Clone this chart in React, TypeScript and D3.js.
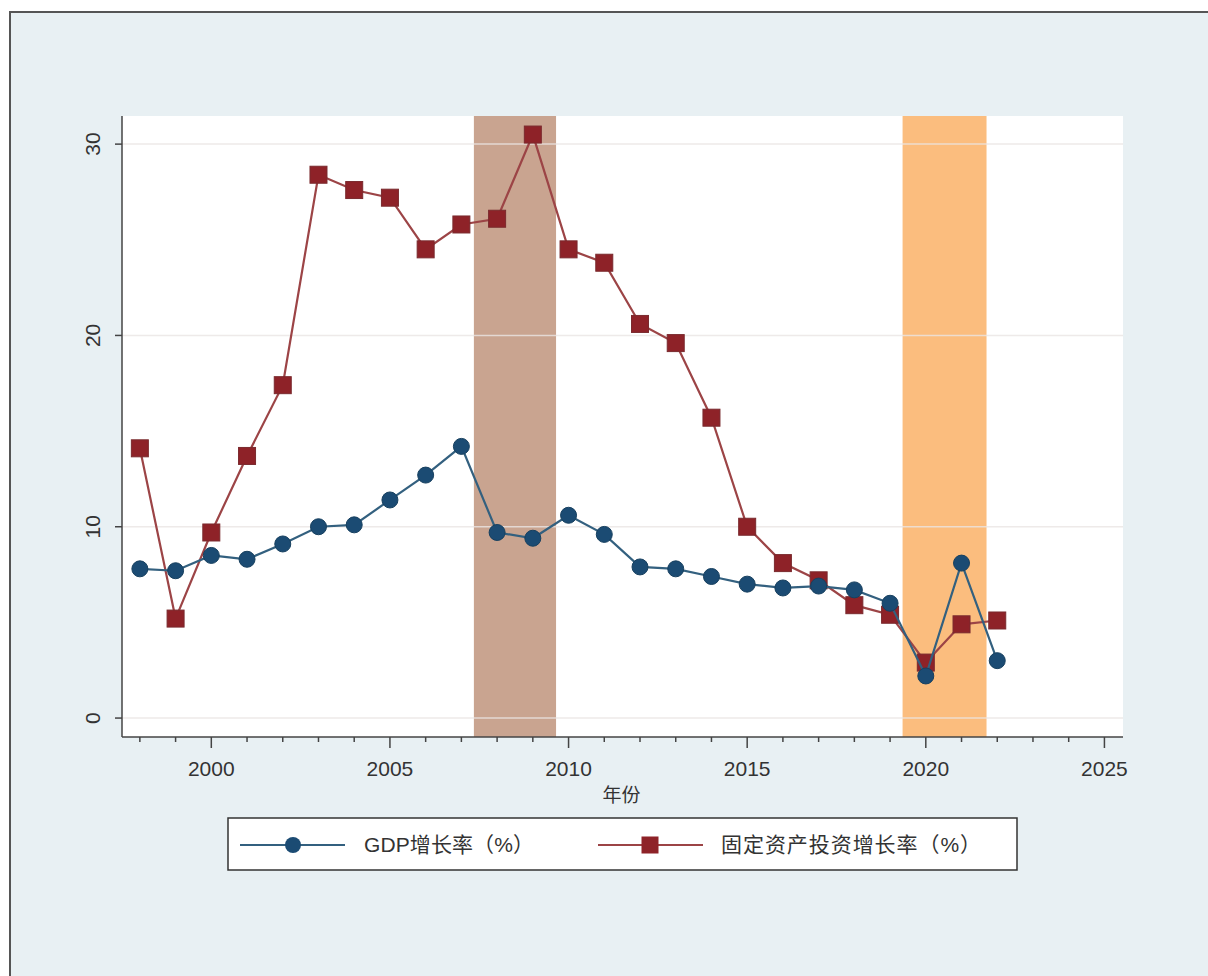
import React from "react";
import * as d3 from "d3";

const years = [1998,1999,2000,2001,2002,2003,2004,2005,2006,2007,2008,2009,2010,2011,2012,2013,2014,2015,2016,2017,2018,2019,2020,2021,2022];
const gdpGrowth = [7.8,7.7,8.5,8.3,9.1,10.0,10.1,11.4,12.7,14.2,9.7,9.4,10.6,9.6,7.9,7.8,7.4,7.0,6.8,6.9,6.7,6.0,2.2,8.1,3.0];
const fixedAssetGrowth = [14.1,5.2,9.7,13.7,17.4,28.4,27.6,27.2,24.5,25.8,26.1,30.5,24.5,23.8,20.6,19.6,15.7,10.0,8.1,7.2,5.9,5.4,2.9,4.9,5.1];
const majorXTicks = [2000,2005,2010,2015,2020,2025];
const minorXTicks = d3.range(1998, 2026);
const yTicks = [0,10,20,30];
const bands = [
  { start: 2007.35, end: 2009.65, color: "#c9a490" },
  { start: 2019.35, end: 2021.7, color: "#fbbd7e" },
];
const seriesNames = ["GDP增长率（%）", "固定资产投资增长率（%）"];

const FONT = "'Liberation Sans', Arial, 'Noto Sans CJK SC', sans-serif";

export default function App() {
  const left = 122, right = 1123, top = 116, bottom = 737;
  const x = d3.scaleLinear().domain([1997.5, 2025.52]).range([left, right]);
  const y = d3.scaleLinear().domain([-0.99, 31.47]).range([bottom, top]);
  const lineGen = d3.line<number>().x((_, i) => x(years[i])).y((d) => y(d));

  const blueLine = "#33607f";
  const blueFill = "#1b4b73";
  const redLine = "#9c4446";
  const redFill = "#8e2228";

  return (
    <svg width={1208} height={976} style={{ position: "absolute", left: 0, top: 0, fontFamily: FONT }}>
      <rect x={0} y={0} width={1208} height={976} fill="#ffffff" />
      <rect x={10} y={12} width={1220} height={990} fill="#e8f0f3" stroke="#555" strokeWidth={2} />
      <rect x={left} y={top} width={right - left} height={bottom - top} fill="#ffffff" />
      {bands.map((b, i) => (
        <rect key={i} x={x(b.start)} y={top} width={x(b.end) - x(b.start)} height={bottom - top} fill={b.color} />
      ))}
      {yTicks.map((t) => (
        <line key={t} x1={left} x2={right} y1={y(t)} y2={y(t)} stroke="#ebe6e4" strokeWidth={1.5} opacity={0.8} />
      ))}
      {/* axes */}
      <line x1={left} x2={left} y1={top} y2={bottom} stroke="#444" strokeWidth={1.5} />
      <line x1={left} x2={right} y1={bottom} y2={bottom} stroke="#444" strokeWidth={1.5} />
      {yTicks.map((t) => (
        <g key={t}>
          <line x1={left - 7} x2={left} y1={y(t)} y2={y(t)} stroke="#444" strokeWidth={1.5} />
          <text transform={`translate(${left - 22},${y(t)}) rotate(-90)`} textAnchor="middle" fontSize={21} fill="#333">{t}</text>
        </g>
      ))}
      {minorXTicks.map((t) => (
        <line key={t} x1={x(t)} x2={x(t)} y1={bottom} y2={bottom + (t % 5 === 0 ? 11 : 5)} stroke="#444" strokeWidth={1.5} />
      ))}
      {majorXTicks.map((t) => (
        <text key={t} x={x(t)} y={776} textAnchor="middle" fontSize={21} fill="#333">{t}</text>
      ))}
      <text x={(left + right) / 2 - 1} y={802} textAnchor="middle" fontSize={19} fill="#333">年份</text>

      {/* red series */}
      <path d={lineGen(fixedAssetGrowth) || ""} fill="none" stroke={redLine} strokeWidth={2.2} />
      {fixedAssetGrowth.map((v, i) => (
        <rect key={i} x={x(years[i]) - 8.5} y={y(v) - 8.5} width={17} height={17} fill={redFill} stroke="#7a2a2e" strokeWidth={1} />
      ))}
      {/* blue series */}
      <path d={lineGen(gdpGrowth) || ""} fill="none" stroke={blueLine} strokeWidth={2.2} />
      {gdpGrowth.map((v, i) => (
        <circle key={i} cx={x(years[i])} cy={y(v)} r={8} fill={blueFill} stroke="#17405f" strokeWidth={1} />
      ))}

      {/* legend */}
      <rect x={228} y={818} width={789} height={52} fill="#ffffff" stroke="#333" strokeWidth={1.5} />
      <line x1={240} x2={345} y1={845} y2={845} stroke={blueLine} strokeWidth={2.2} />
      <circle cx={293} cy={845} r={8} fill={blueFill} />
      <text x={364} y={852} fontSize={21} fill="#333" textLength={170} lengthAdjust="spacing">{seriesNames[0]}</text>
      <line x1={598} x2={703} y1={845} y2={845} stroke={redLine} strokeWidth={2.2} />
      <rect x={641.5} y={836.5} width={17} height={17} fill={redFill} />
      <text x={721} y={852} fontSize={21} fill="#333" textLength={260} lengthAdjust="spacing">{seriesNames[1]}</text>
    </svg>
  );
}
